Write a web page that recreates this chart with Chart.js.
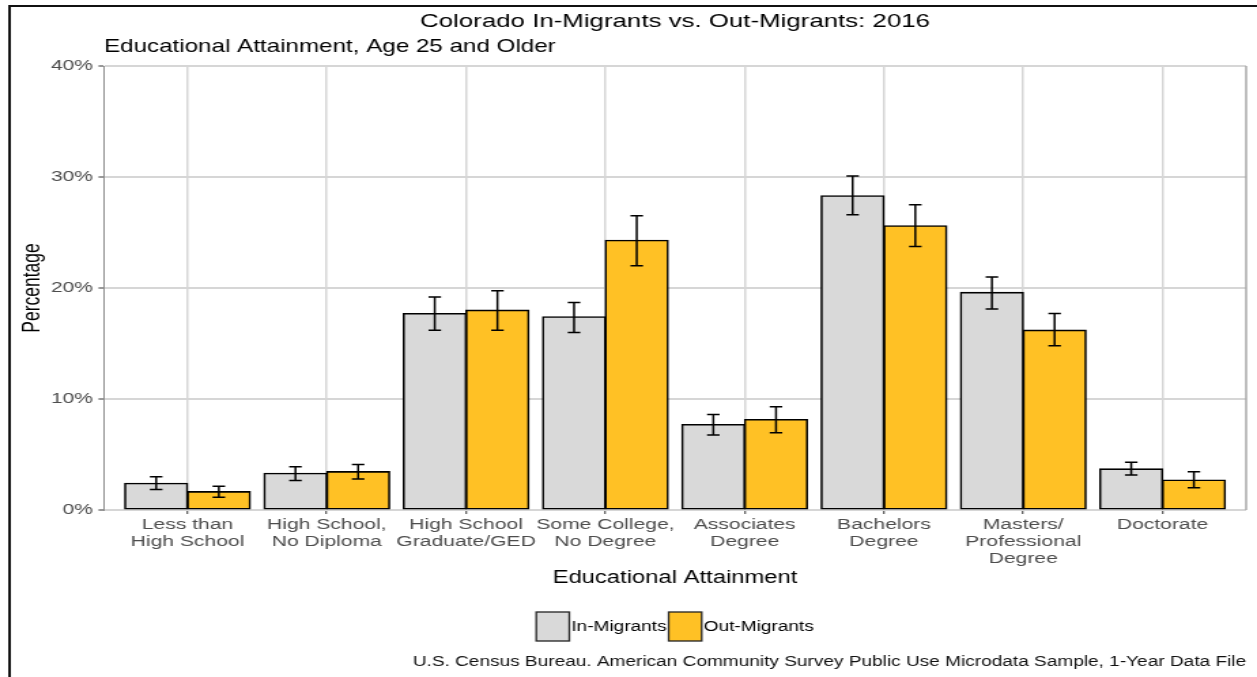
<!DOCTYPE html>
<html>
<head>
<meta charset="utf-8">
<title>Colorado In-Migrants vs. Out-Migrants: 2016</title>
<script src="https://cdn.jsdelivr.net/npm/chart.js@4.4.1/dist/chart.umd.min.js"></script>
<style>
  html, body { margin: 0; padding: 0; background: #fff; overflow: hidden; }
</style>
</head>
<body>
<!-- drawn at 924px wide and stretched out to the page width -->
<canvas id="chart" width="924" height="677" style="width:1257px;height:677px"></canvas>
<script>
const categories = [
  ["Less than", "High School"],
  ["High School,", "No Diploma"],
  ["High School", "Graduate/GED"],
  ["Some College,", "No Degree"],
  ["Associates", "Degree"],
  ["Bachelors", "Degree"],
  ["Masters/", "Professional", "Degree"],
  ["Doctorate"],
];

const inMigrants = [2.4, 3.3, 17.7, 17.4, 7.7, 28.3, 19.6, 3.7];
const inLow = [1.85, 2.65, 16.2, 16.0, 6.75, 26.6, 18.1, 3.15];
const inHigh = [3.0, 3.9, 19.2, 18.7, 8.6, 30.1, 21.0, 4.3];

const outMigrants = [1.65, 3.45, 18.0, 24.3, 8.15, 25.6, 16.2, 2.7];
const outLow = [1.15, 2.8, 16.2, 22.0, 6.95, 23.75, 14.8, 2.0];
const outHigh = [2.15, 4.1, 19.75, 26.5, 9.3, 27.5, 17.7, 3.45];

const yTicks = [0, 10, 20, 30, 40];

const FONT = "'Liberation Sans', Arial, Helvetica, sans-serif";
const GREY_FILL = "#d9d9d9";
const GOLD_FILL = "#ffc125";

Chart.defaults.font.family = FONT;

// confidence interval whiskers on top of each bar
const errorBars = {
  id: "errorBars",
  afterDatasetsDraw(chart) {
    const { ctx } = chart;
    const y = chart.scales.y;
    ctx.save();
    ctx.strokeStyle = "#000";
    ctx.lineWidth = 1.5;
    chart.data.datasets.forEach((ds, di) => {
      const meta = chart.getDatasetMeta(di);
      meta.data.forEach((bar, i) => {
        const top = y.getPixelForValue(ds.errHigh[i]);
        const bottom = y.getPixelForValue(ds.errLow[i]);
        const half = bar.width * 0.1;
        ctx.beginPath();
        ctx.moveTo(bar.x, top);
        ctx.lineTo(bar.x, bottom);
        ctx.moveTo(bar.x - half, top);
        ctx.lineTo(bar.x + half, top);
        ctx.moveTo(bar.x - half, bottom);
        ctx.lineTo(bar.x + half, bottom);
        ctx.stroke();
      });
    });
    ctx.restore();
  },
};

// frame, titles, legend and source note
const decorations = {
  id: "decorations",
  afterDraw(chart) {
    const { ctx, chartArea } = chart;
    const mid = (chartArea.left + chartArea.right) / 2;
    ctx.save();

    ctx.fillStyle = "#111";
    ctx.fillRect(6, 5, chart.width, 2);
    ctx.fillRect(6, 5, 2, chart.height);

    ctx.strokeStyle = "#a8a8a8";
    ctx.lineWidth = 1.5;
    ctx.beginPath();
    ctx.moveTo(chartArea.right, chartArea.top);
    ctx.lineTo(chartArea.right, chartArea.bottom);
    ctx.stroke();

    ctx.fillStyle = "#000";
    ctx.textBaseline = "middle";
    ctx.font = `19px ${FONT}`;
    ctx.textAlign = "center";
    ctx.fillText("Colorado In-Migrants vs. Out-Migrants: 2016", mid, 22);

    ctx.font = `17.8px ${FONT}`;
    ctx.textAlign = "left";
    ctx.fillText("Educational Attainment, Age 25 and Older", chartArea.left, 47);

    // legend
    const items = chart.data.datasets.map((ds) => ({ label: ds.label, fill: ds.backgroundColor }));
    ctx.font = `14px ${FONT}`;
    const boxW = 24.3, boxH = 29, gap = 1.5;
    let total = 0;
    items.forEach((it, i) => {
      it.w = ctx.measureText(it.label).width;
      total += boxW + gap + it.w + (i < items.length - 1 ? gap : 0);
    });
    let x = mid - total / 2;
    items.forEach((it) => {
      ctx.fillStyle = it.fill;
      ctx.fillRect(x, 612, boxW, boxH);
      ctx.strokeStyle = "#222";
      ctx.lineWidth = 1.3;
      ctx.strokeRect(x, 612, boxW, boxH);
      x += boxW + gap;
      ctx.fillStyle = "#000";
      ctx.fillText(it.label, x, 627);
      x += it.w + gap;
    });

    ctx.font = `14px ${FONT}`;
    ctx.textAlign = "right";
    ctx.fillStyle = "#111";
    ctx.fillText(
      "U.S. Census Bureau. American Community Survey Public Use Microdata Sample, 1-Year Data File",
      chartArea.right, 662
    );
    ctx.restore();
  },
};

new Chart(document.getElementById("chart"), {
  type: "bar",
  data: {
    datasets: [
      {
        label: "In-Migrants",
        data: inMigrants.map((v, i) => ({ x: i, y: v })),
        errLow: inLow,
        errHigh: inHigh,
        backgroundColor: GREY_FILL,
      },
      {
        label: "Out-Migrants",
        data: outMigrants.map((v, i) => ({ x: i, y: v })),
        errLow: outLow,
        errHigh: outHigh,
        backgroundColor: GOLD_FILL,
      },
    ],
  },
  options: {
    responsive: false,
    devicePixelRatio: 1,
    animation: false,
    categoryPercentage: 0.9,
    barPercentage: 1.0,
    datasets: {
      bar: { borderColor: "#000", borderWidth: 1.6, borderSkipped: false, inflateAmount: 0.6 },
    },
    layout: { padding: { top: 66, right: 8, bottom: 87, left: 0 } },
    plugins: {
      legend: { display: false },
      tooltip: { enabled: false },
      title: { display: false },
    },
    scales: {
      x: {
        type: "linear",
        min: -0.6,
        max: 7.6,
        offset: false,
        afterBuildTicks: (scale) => {
          scale.ticks = categories.map((_, i) => ({ value: i }));
        },
        afterFit: (scale) => {
          scale.height = 80;
        },
        grid: {
          offset: false,
          color: "#d6d6d6",
          lineWidth: 1.5,
          tickColor: "#333",
          tickLength: 4,
          tickWidth: 1,
        },
        border: { display: false },
        ticks: {
          autoSkip: false,
          maxRotation: 0,
          padding: 2.5,
          color: "#4d4d4d",
          font: { size: 15.5, lineHeight: 1.1 },
          callback: (value) => categories[value],
        },
        title: {
          display: true,
          text: "Educational Attainment",
          color: "#000",
          font: { size: 17.5 },
          padding: { top: 0, bottom: 1.5 },
        },
      },
      y: {
        min: 0,
        max: 40,
        afterBuildTicks: (scale) => {
          scale.ticks = yTicks.map((v) => ({ value: v }));
        },
        afterFit: (scale) => {
          scale.width = 76.4;
        },
        grid: {
          color: "#d6d6d6",
          lineWidth: 2,
          tickColor: "#333",
          tickLength: 4,
          tickWidth: 1,
        },
        border: { display: true, color: "#8c8c8c", width: 1 },
        ticks: {
          padding: 4,
          color: "#4d4d4d",
          font: { size: 15.5 },
          callback: (value) => value + "%",
        },
        title: {
          display: true,
          text: "Percentage",
          color: "#000",
          font: { size: 17.5 },
          padding: { top: 13.8, bottom: 0 },
        },
      },
    },
  },
  plugins: [errorBars, decorations],
});
</script>
</body>
</html>
